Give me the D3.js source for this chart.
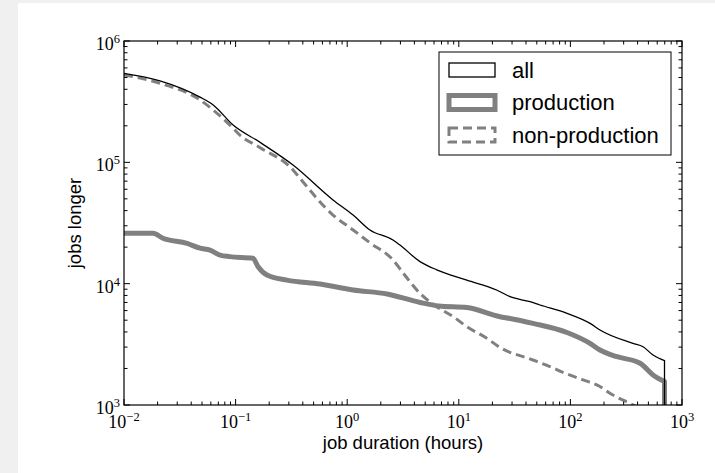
<!DOCTYPE html>
<html>
<head>
<meta charset="utf-8">
<script src="https://cdn.jsdelivr.net/npm/d3@7"></script>
<style>
  html, body { margin: 0; padding: 0; background: #f0f0f0; }
  svg { display: block; }
</style>
</head>
<body>
<script>
// job duration CCDF
const allHours = [0.01, 0.021, 0.048, 0.063, 0.095, 0.166, 0.327, 0.746, 1.13, 1.60, 2.57, 2.97, 4.49, 6.34, 11.8, 21.8, 28.8, 43.4, 53.4, 93.3, 150, 184, 364, 448, 550, 697, 697];
const allCounts = [5.42e5, 4.70e5, 3.45e5, 2.97e5, 2.03e5, 1.46e5, 9.5e4, 4.9e4, 3.68e4, 2.77e4, 2.29e4, 2.08e4, 1.52e4, 1.30e4, 1.07e4, 8.87e3, 7.81e3, 7.1e3, 6.67e3, 5.70e3, 4.71e3, 4.15e3, 3.22e3, 3.02e3, 2.58e3, 2.32e3, 1e3];

const prodHours = [0.01, 0.0182, 0.0223, 0.0367, 0.048, 0.059, 0.0725, 0.089, 0.143, 0.159, 0.191, 0.289, 0.570, 1.13, 2.28, 4.49, 6.6, 11.8, 23.4, 28.8, 46.2, 93.3, 150, 184, 262, 421, 550, 697, 697];
const prodCounts = [2.60e4, 2.60e4, 2.37e4, 2.15e4, 1.96e4, 1.89e4, 1.72e4, 1.67e4, 1.62e4, 1.38e4, 1.18e4, 1.07e4, 9.93e3, 8.87e3, 8.22e3, 7.0e3, 6.55e3, 6.36e3, 5.34e3, 5.17e3, 4.71e3, 3.96e3, 3.22e3, 2.84e3, 2.50e3, 2.21e3, 1.77e3, 1.56e3, 1e3];

const nonProdHours = [0.01, 0.021, 0.048, 0.063, 0.095, 0.109, 0.166, 0.327, 0.377, 0.746, 1.13, 1.60, 2.57, 3.18, 4.49, 6.34, 8.93, 11.8, 17.8, 23.4, 46.2, 65.6, 93.3, 130, 184, 226, 364, 500];
const nonProdCounts = [5.25e5, 4.48e5, 3.27e5, 2.70e5, 1.91e5, 1.68e5, 1.32e5, 8.65e4, 7.39e4, 3.68e4, 2.77e4, 2.17e4, 1.57e4, 1.22e4, 8.32e3, 6.46e3, 5.34e3, 4.42e3, 3.55e3, 2.98e3, 2.35e3, 2.07e3, 1.80e3, 1.61e3, 1.42e3, 1.25e3, 1.0e3, 0.85e3];

const seriesNames = ['all', 'production', 'non-production'];
const xTickExps = [-2, -1, 0, 1, 2, 3];
const yTickExps = [3, 4, 5, 6];

const width = 715;
const height = 473;
const margin = { left: 124, right: 33, top: 41, bottom: 68 };

const svg = d3.select('body').append('svg')
  .attr('width', width)
  .attr('height', height);

// white figure area, gray strip on left/top like the screenshot
svg.append('rect')
  .attr('x', 18).attr('y', 3)
  .attr('width', width - 18).attr('height', height - 3)
  .attr('fill', '#ffffff');

const x = d3.scaleLog()
  .domain([1e-2, 1e3])
  .range([margin.left, width - margin.right]);

const y = d3.scaleLog()
  .domain([1e3, 1e6])
  .range([height - margin.bottom, margin.top]);

svg.append('clipPath').attr('id', 'plotclip')
  .append('rect')
  .attr('x', margin.left).attr('y', margin.top)
  .attr('width', width - margin.left - margin.right)
  .attr('height', height - margin.top - margin.bottom);

const smooth = d3.line()
  .x(d => x(d[0]))
  .y(d => y(d[1]))
  .curve(d3.curveMonotoneX);

const straight = d3.line()
  .x(d => x(d[0]))
  .y(d => y(d[1]));

const zip = (a, b) => a.map((v, i) => [v, b[i]]);

// smooth part, plus a straight vertical drop where the last x repeats
function curvePath(hours, counts) {
  const pts = zip(hours, counts);
  const n = pts.length;
  if (n > 1 && pts[n - 1][0] === pts[n - 2][0]) {
    return smooth(pts.slice(0, n - 1)) + straight(pts.slice(n - 2)).replace(/^M/, 'L');
  }
  return smooth(pts);
}

const plot = svg.append('g').attr('clip-path', 'url(#plotclip)');

// non-production dashed first, then production, then all on top
plot.append('path')
  .attr('d', curvePath(nonProdHours, nonProdCounts))
  .attr('fill', 'none')
  .attr('stroke', '#808080')
  .attr('stroke-width', 3)
  .attr('stroke-dasharray', '9,5');

plot.append('path')
  .attr('d', curvePath(prodHours, prodCounts))
  .attr('fill', 'none')
  .attr('stroke', '#808080')
  .attr('stroke-width', 5)
  .attr('stroke-linejoin', 'round');

plot.append('path')
  .attr('d', curvePath(allHours, allCounts))
  .attr('fill', 'none')
  .attr('stroke', '#000000')
  .attr('stroke-width', 1.3);

// minor ticks for log axes
function minorTicks(lo, hi) {
  const out = [];
  for (let e = lo; e < hi; e++) {
    for (let m = 2; m <= 9; m++) out.push(m * Math.pow(10, e));
  }
  return out;
}
const xMinor = minorTicks(-2, 3);
const yMinor = minorTicks(3, 6);

const x0 = margin.left, x1 = width - margin.right;
const y0 = margin.top, y1 = height - margin.bottom;

const ticks = svg.append('g').attr('stroke', '#000').attr('stroke-width', 1);

// x ticks, bottom and top, pointing inward
xTickExps.forEach(e => {
  const px = x(Math.pow(10, e));
  ticks.append('line').attr('x1', px).attr('x2', px).attr('y1', y1).attr('y2', y1 - 6);
  ticks.append('line').attr('x1', px).attr('x2', px).attr('y1', y0).attr('y2', y0 + 6);
});
xMinor.forEach(v => {
  const px = x(v);
  ticks.append('line').attr('x1', px).attr('x2', px).attr('y1', y1).attr('y2', y1 - 3.5);
  ticks.append('line').attr('x1', px).attr('x2', px).attr('y1', y0).attr('y2', y0 + 3.5);
});
yTickExps.forEach(e => {
  const py = y(Math.pow(10, e));
  ticks.append('line').attr('y1', py).attr('y2', py).attr('x1', x0).attr('x2', x0 + 6);
  ticks.append('line').attr('y1', py).attr('y2', py).attr('x1', x1).attr('x2', x1 - 6);
});
yMinor.forEach(v => {
  const py = y(v);
  ticks.append('line').attr('y1', py).attr('y2', py).attr('x1', x0).attr('x2', x0 + 3.5);
  ticks.append('line').attr('y1', py).attr('y2', py).attr('x1', x1).attr('x2', x1 - 3.5);
});

// frame
svg.append('rect')
  .attr('x', x0).attr('y', y0)
  .attr('width', x1 - x0).attr('height', y1 - y0)
  .attr('fill', 'none')
  .attr('stroke', '#000')
  .attr('stroke-width', 1.2);

// tick labels: 10 with superscript exponent
const serif = '"Liberation Serif", "DejaVu Serif", serif';

function powLabel(sel, e) {
  sel.append('tspan').text('10');
  sel.append('tspan')
    .attr('dy', -7)
    .attr('font-size', 12.5)
    .text(e < 0 ? '\u2212' + Math.abs(e) : String(e));
}

xTickExps.forEach(e => {
  const t = svg.append('text')
    .attr('x', x(Math.pow(10, e)))
    .attr('y', y1 + 23)
    .attr('text-anchor', 'middle')
    .attr('font-family', serif)
    .attr('font-size', 18)
    .attr('fill', '#000');
  powLabel(t, e);
});

yTickExps.forEach(e => {
  const t = svg.append('text')
    .attr('x', x0 - 4)
    .attr('y', y(Math.pow(10, e)) + 9)
    .attr('text-anchor', 'end')
    .attr('font-family', serif)
    .attr('font-size', 18)
    .attr('fill', '#000');
  powLabel(t, e);
});

const sans = '"Liberation Sans", Arial, Helvetica, sans-serif';

svg.append('text')
  .attr('x', (x0 + x1) / 2)
  .attr('y', 449)
  .attr('text-anchor', 'middle')
  .attr('font-family', sans)
  .attr('font-size', 18.5)
  .text('job duration (hours)');

svg.append('text')
  .attr('transform', 'translate(81,' + ((y0 + y1) / 2) + ') rotate(-90)')
  .attr('text-anchor', 'middle')
  .attr('font-family', sans)
  .attr('font-size', 18.5)
  .text('jobs longer');

// legend
const legend = svg.append('g');
legend.append('rect')
  .attr('x', 439).attr('y', 52)
  .attr('width', 232).attr('height', 103)
  .attr('fill', '#fff')
  .attr('stroke', '#000')
  .attr('stroke-width', 1);

const legendStyles = [
  { stroke: '#000', width: 1.3, dash: null },
  { stroke: '#808080', width: 5, dash: null },
  { stroke: '#808080', width: 3, dash: '9,5' }
];

seriesNames.forEach((name, i) => {
  const cy = 70 + i * 32.5;
  const st = legendStyles[i];
  legend.append('rect')
    .attr('x', 449).attr('y', cy - 7)
    .attr('width', 46).attr('height', 14)
    .attr('fill', 'none')
    .attr('stroke', st.stroke)
    .attr('stroke-width', st.width)
    .attr('stroke-dasharray', st.dash);
  legend.append('text')
    .attr('x', 512)
    .attr('y', cy + 7.5)
    .attr('font-family', sans)
    .attr('font-size', 22)
    .text(name);
});
</script>
</body>
</html>
